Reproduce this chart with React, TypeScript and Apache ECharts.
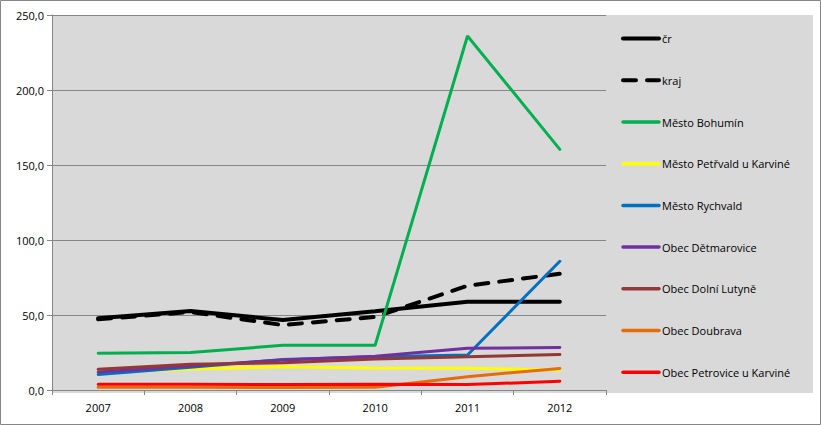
import React, { useEffect, useRef } from "react";
import * as echarts from "echarts";

const years = ["2007", "2008", "2009", "2010", "2011", "2012"];
const seriesNames = [
  "čr",
  "kraj",
  "Město Bohumín",
  "Město Petřvald u Karviné",
  "Město Rychvald",
  "Obec Dětmarovice",
  "Obec Dolní Lutyně",
  "Obec Doubrava",
  "Obec Petrovice u Karviné",
];
const cr = [47.8, 52.7, 46.7, 52.5, 58.9, 58.9];
const kraj = [47.1, 52.0, 43.3, 48.7, 69.5, 77.5];
const bohumin = [24.5, 25.0, 29.8, 29.8, 236.0, 160.4];
const petrvald = [11.5, 14.0, 15.5, 14.7, 14.5, 13.3];
const rychvald = [10.4, 15.1, 20.4, 22.2, 23.3, 85.8];
const detmarovice = [12.0, 16.0, 20.0, 22.5, 27.8, 28.4];
const dolniLutyne = [13.8, 17.1, 18.2, 20.6, 22.2, 23.6];
const doubrava = [1.8, 1.8, 1.6, 1.8, 8.9, 14.4];
const petrovice = [3.8, 3.8, 3.6, 3.8, 3.6, 5.8];
const yTicks = [0, 50, 100, 150, 200, 250];

const colors = [
  "#000000",
  "#000000",
  "#00b050",
  "#ffff00",
  "#0070c0",
  "#7030a0",
  "#953735",
  "#e46c0a",
  "#ff0000",
];
const values = [cr, kraj, bohumin, petrvald, rychvald, detmarovice, dolniLutyne, doubrava, petrovice];

export default function App() {
  const ref = useRef<HTMLDivElement>(null);
  useEffect(() => {
    const chart = echarts.init(ref.current!, null, { renderer: "svg" });
    const font = "'Open Sans', 'Noto Sans', sans-serif";
    const krajDash = [13, 11];
    chart.setOption({
      animation: false,
      textStyle: { fontFamily: font },
      graphic: [
        {
          type: "rect",
          z: -10,
          silent: true,
          shape: { x: 52, y: 15, width: 761, height: 378 },
          style: { fill: "#d9d9d9" },
        },
        {
          type: "rect",
          z: 100,
          silent: true,
          shape: { x: 0.5, y: 0.5, width: 820, height: 424 },
          style: { fill: "none", stroke: "#868686", lineWidth: 1 },
        },
      ],
      grid: { left: 52, right: 215, top: 15, bottom: 35, containLabel: false },
      xAxis: {
        type: "category",
        data: years,
        boundaryGap: true,
        axisLine: { lineStyle: { color: "#868686", width: 1 } },
        axisTick: { show: true, alignWithLabel: false, length: 5, lineStyle: { color: "#868686" } },
        axisLabel: { color: "#000", fontSize: 11, fontFamily: font, margin: 12 },
        splitLine: { show: false },
      },
      yAxis: {
        type: "value",
        min: yTicks[0],
        max: yTicks[yTicks.length - 1],
        interval: 50,
        axisLine: { show: true, lineStyle: { color: "#868686", width: 1 } },
        axisTick: { show: true, length: 5, lineStyle: { color: "#868686" } },
        axisLabel: {
          color: "#000",
          fontSize: 11,
          fontFamily: font,
          margin: 8,
          formatter: (v: number) => v.toFixed(1).replace(".", ","),
        },
        splitLine: { show: true, lineStyle: { color: "#868686", width: 1 } },
      },
      legend: {
        orient: "vertical",
        left: 616,
        top: 28,
        itemWidth: 36,
        itemHeight: 14,
        itemGap: 30.5,
        itemStyle: { opacity: 0 },
        textStyle: { color: "#000", fontSize: 11, fontFamily: font, padding: [0, 0, 0, -2] },
        data: seriesNames.map((name, i) => ({
          name,
          lineStyle: {
            type: i === 1 ? krajDash : "solid",
            width: i < 2 ? 4 : 3.5,
            cap: "round",
            color: colors[i],
          },
        })),
      },
      series: seriesNames.map((name, i) => ({
        name,
        type: "line",
        data: values[i],
        symbol: "none",
        color: colors[i],
        lineStyle: {
          color: colors[i],
          width: i < 2 ? 4 : 3,
          type: i === 1 ? krajDash : "solid",
          cap: "round",
        },
      })),
    });
    return () => chart.dispose();
  }, []);
  return (
    <div
      ref={ref}
      style={{ position: "fixed", left: 0, top: 0, width: 821, height: 425, background: "#fff" }}
    />
  );
}
